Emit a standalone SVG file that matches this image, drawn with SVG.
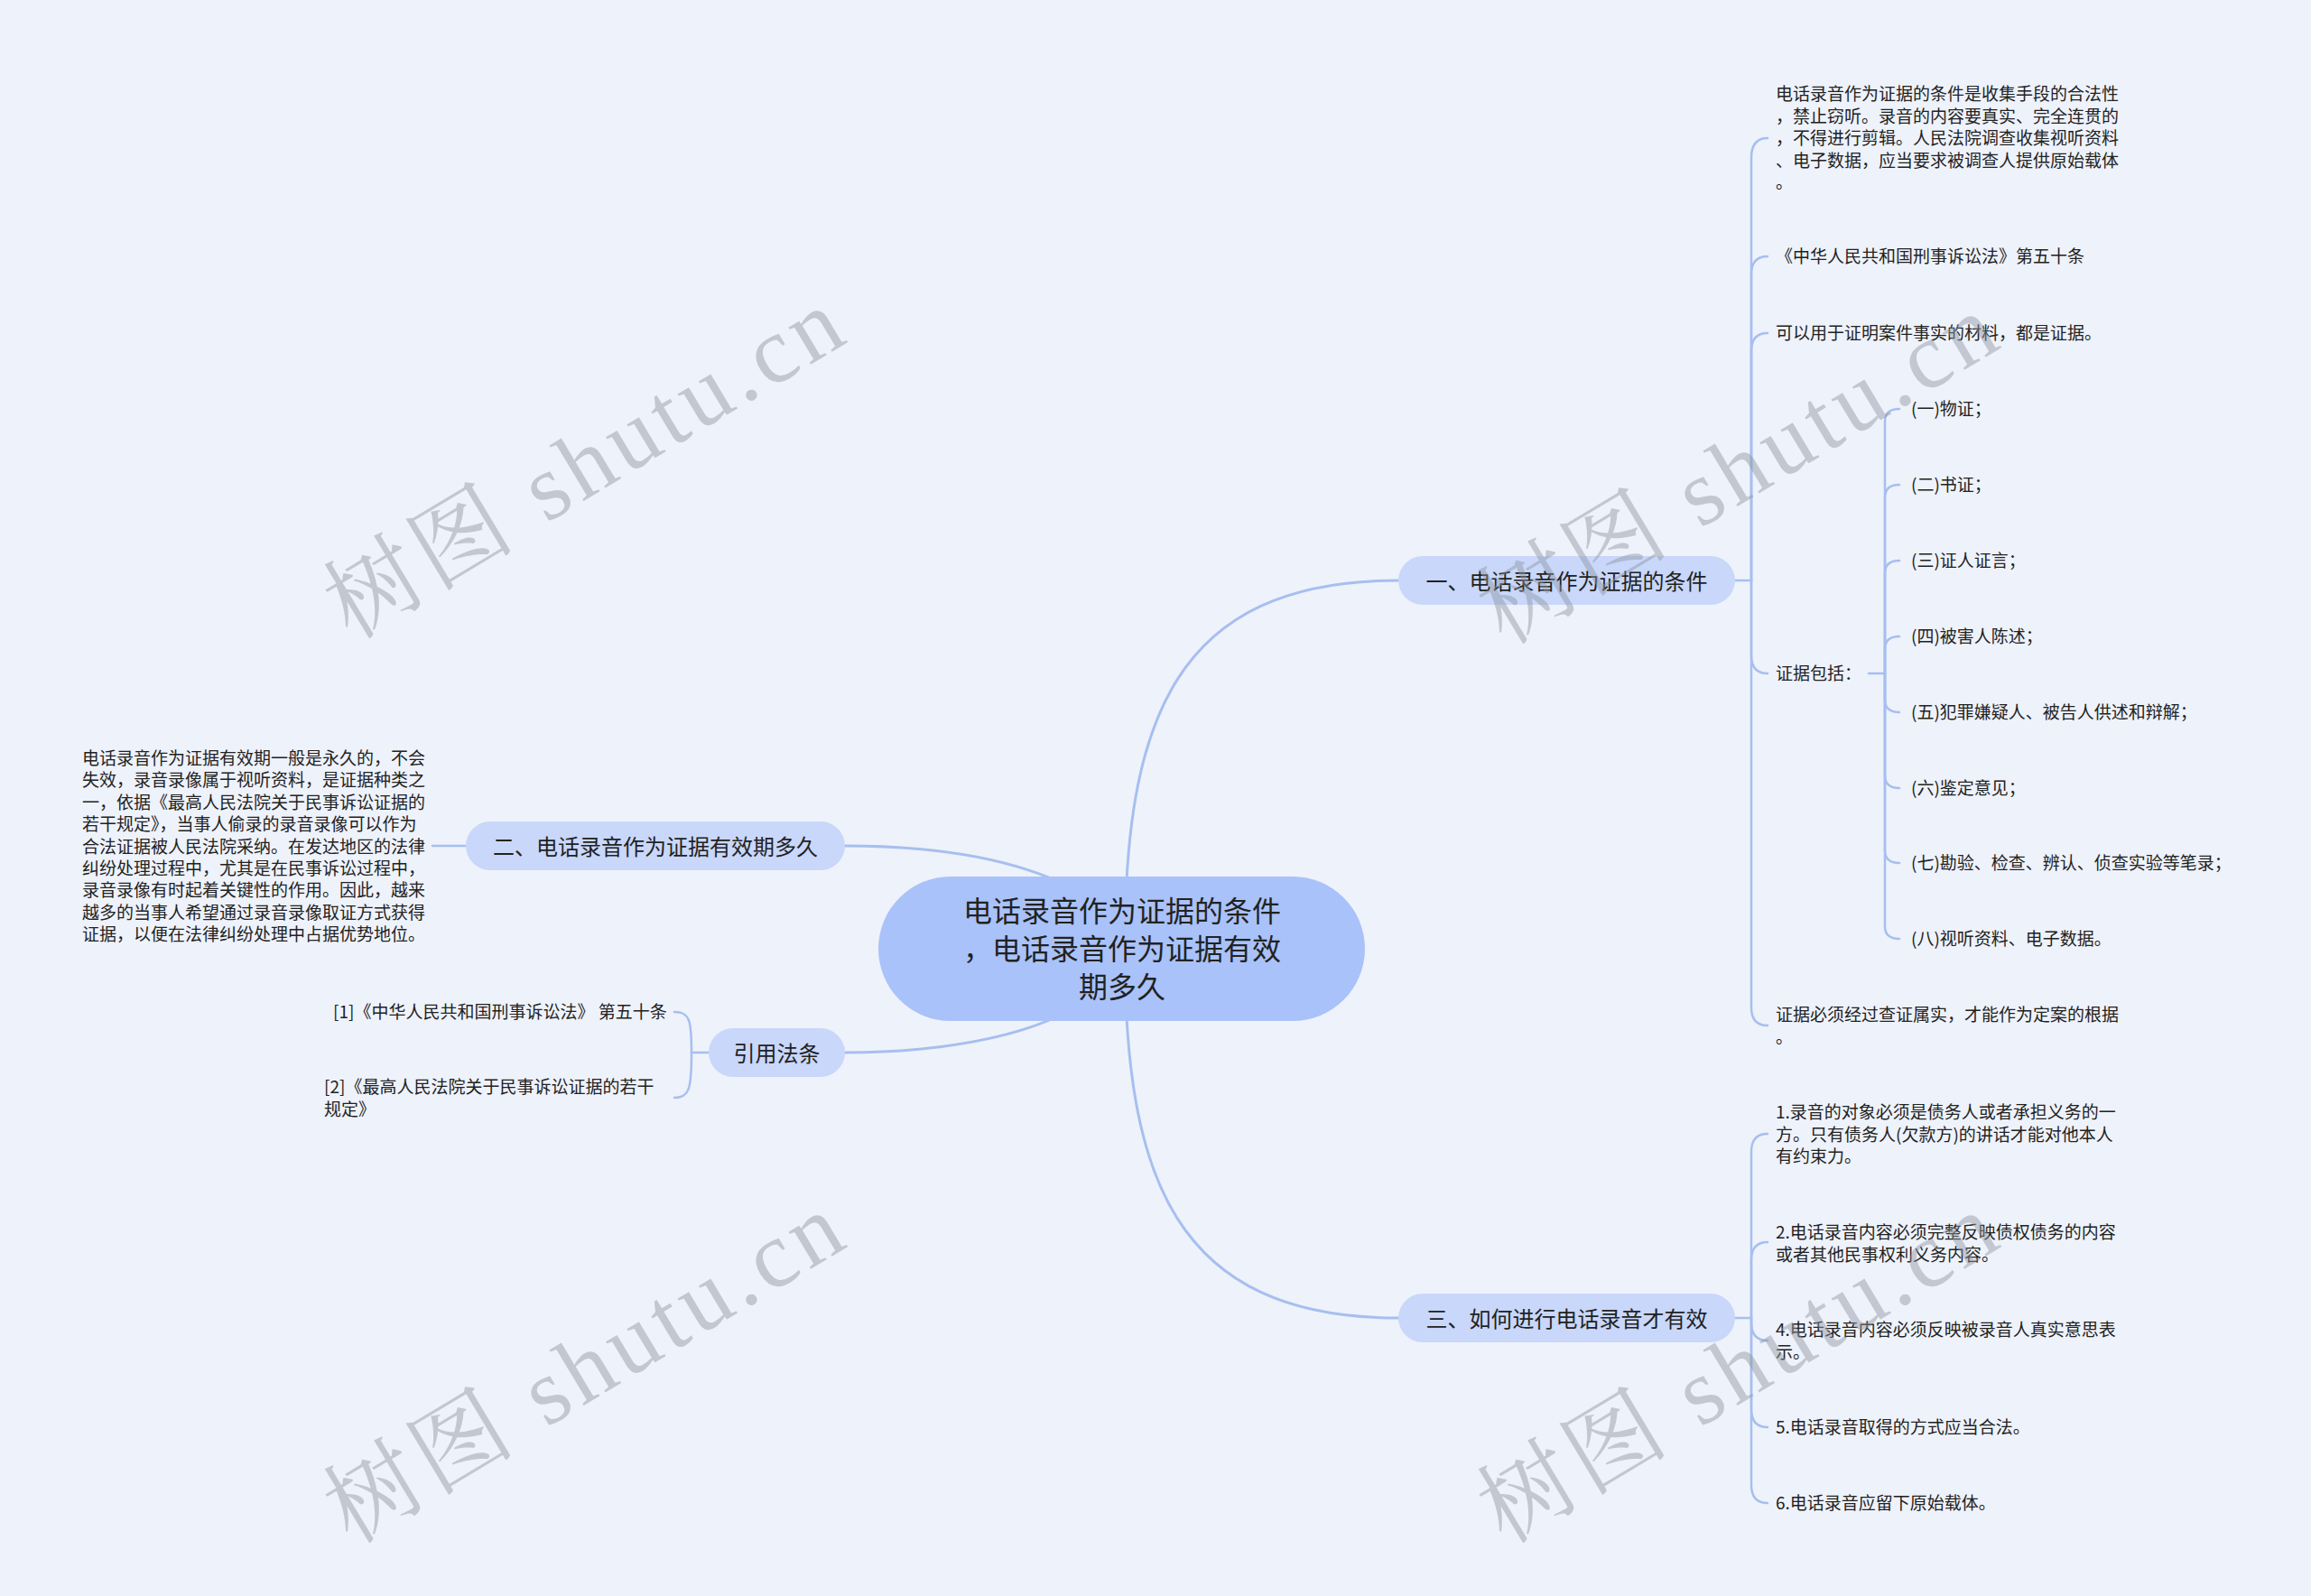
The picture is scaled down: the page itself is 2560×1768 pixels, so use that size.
<svg xmlns="http://www.w3.org/2000/svg" width="2560" height="1768" viewBox="0 0 2560 1768">
<style>
.bg{fill:#eef2fb}
.ln{fill:none;stroke:#a7bfef;stroke-width:2.5;stroke-linecap:round}
.lm{fill:none;stroke:#a7bfef;stroke-width:3;stroke-linecap:round}
.t{font-family:"Noto Sans CJK SC","Noto Sans",sans-serif;fill:#222;dominant-baseline:central}
.c{font-size:19px}
.b{font-size:24px;text-anchor:middle}
.r{font-size:32px;text-anchor:middle}
.rootbox{fill:#a9c2fa}
.brbox{fill:#c8d7fa}
.wm{font-family:"Liberation Serif","Noto Serif CJK SC","Noto Sans CJK SC",serif;font-size:104px;letter-spacing:6px;fill:#8e959f;opacity:0.45;text-anchor:middle;dominant-baseline:central}
</style>
<rect class="bg" x="0" y="0" width="2560" height="1768"/>

<g id="connectors">
  <path class="lm" d="M1246,1051 C1246,800 1300,643 1549,643"/>
  <path class="lm" d="M1246,1051 C1246,1302 1300,1460 1549,1460"/>
  <path class="lm" d="M1242,1051 C1230,970 1080,937 936,937"/>
  <path class="lm" d="M1242,1051 C1230,1132 1080,1166 936,1166"/>
  <path class="ln" d="M1922,643 H1940"/>
  <path class="ln" d="M1940,643 V175 Q1940,153 1958,153"/>
  <path class="ln" d="M1940,643 V304 Q1940,284 1958,284"/>
  <path class="ln" d="M1940,643 V389 Q1940,369 1958,369"/>
  <path class="ln" d="M1940,643 V726 Q1940,746 1958,746"/>
  <path class="ln" d="M1940,643 V1116 Q1940,1136 1958,1136"/>
  <path class="ln" d="M2070,746 H2088"/>
  <path class="ln" d="M2088,746 V467 Q2088,453 2104,453"/>
  <path class="ln" d="M2088,746 V551 Q2088,537 2104,537"/>
  <path class="ln" d="M2088,746 V635 Q2088,621 2104,621"/>
  <path class="ln" d="M2088,746 V719 Q2088,705 2104,705"/>
  <path class="ln" d="M2088,746 V775 Q2088,789 2104,789"/>
  <path class="ln" d="M2088,746 V859 Q2088,873 2104,873"/>
  <path class="ln" d="M2088,746 V942 Q2088,956 2104,956"/>
  <path class="ln" d="M2088,746 V1026 Q2088,1040 2104,1040"/>
  <path class="ln" d="M1922,1460 H1940"/>
  <path class="ln" d="M1940,1460 V1276 Q1940,1256 1958,1256"/>
  <path class="ln" d="M1940,1460 V1396 Q1940,1376 1958,1376"/>
  <path class="ln" d="M1940,1460 V1465 Q1940,1485 1958,1485"/>
  <path class="ln" d="M1940,1460 V1561 Q1940,1581 1958,1581"/>
  <path class="ln" d="M1940,1460 V1645 Q1940,1665 1958,1665"/>
  <path class="ln" d="M516,937 H479"/>
  <path class="ln" d="M785,1166 H766"/>
  <path class="ln" d="M766,1166 C766,1130 764,1121 747,1121"/>
  <path class="ln" d="M766,1166 C766,1205 764,1216 747,1216"/>
</g>

<g id="root">
  <rect class="rootbox" x="973" y="971" width="539" height="160" rx="80"/>
  <text class="t r" x="1243" y="1007">电话录音作为证据的条件</text>
  <text class="t r" x="1243" y="1049">，电话录音作为证据有效</text>
  <text class="t r" x="1243" y="1091">期多久</text>
</g>

<g id="branch1">
  <rect class="brbox" x="1549" y="616" width="373" height="54" rx="27"/>
  <text class="t b" x="1735.5" y="642">一、电话录音作为证据的条件</text>
</g>
<g id="b1c1">
  <text class="t c" x="1967" y="102.5">电话录音作为证据的条件是收集手段的合法性</text>
  <text class="t c" x="1967" y="127">，禁止窃听。录音的内容要真实、完全连贯的</text>
  <text class="t c" x="1967" y="151.5">，不得进行剪辑。人民法院调查收集视听资料</text>
  <text class="t c" x="1967" y="176">、电子数据，应当要求被调查人提供原始载体</text>
  <text class="t c" x="1967" y="200.5">。</text>
</g>
<g id="b1c2"><text class="t c" x="1967" y="282.5">《中华人民共和国刑事诉讼法》第五十条</text></g>
<g id="b1c3"><text class="t c" x="1967" y="367.5">可以用于证明案件事实的材料，都是证据。</text></g>
<g id="b1c4"><text class="t c" x="1967" y="744.5">证据包括：</text></g>
<g id="e1"><text class="t c" x="2117" y="451.5">(一)物证；</text></g>
<g id="e2"><text class="t c" x="2117" y="535.5">(二)书证；</text></g>
<g id="e3"><text class="t c" x="2117" y="619.5">(三)证人证言；</text></g>
<g id="e4"><text class="t c" x="2117" y="703.5">(四)被害人陈述；</text></g>
<g id="e5"><text class="t c" x="2117" y="787.5">(五)犯罪嫌疑人、被告人供述和辩解；</text></g>
<g id="e6"><text class="t c" x="2117" y="871.5">(六)鉴定意见；</text></g>
<g id="e7"><text class="t c" x="2117" y="954.5">(七)勘验、检查、辨认、侦查实验等笔录；</text></g>
<g id="e8"><text class="t c" x="2117" y="1038.5">(八)视听资料、电子数据。</text></g>
<g id="b1c5">
  <text class="t c" x="1967" y="1122.5">证据必须经过查证属实，才能作为定案的根据</text>
  <text class="t c" x="1967" y="1147">。</text>
</g>

<g id="branch3">
  <rect class="brbox" x="1549" y="1433" width="373" height="54" rx="27"/>
  <text class="t b" x="1735.5" y="1459">三、如何进行电话录音才有效</text>
</g>
<g id="b3c1">
  <text class="t c" x="1967" y="1230.5">1.录音的对象必须是债务人或者承担义务的一</text>
  <text class="t c" x="1967" y="1255">方。只有债务人(欠款方)的讲话才能对他本人</text>
  <text class="t c" x="1967" y="1279.5">有约束力。</text>
</g>
<g id="b3c2">
  <text class="t c" x="1967" y="1363.5">2.电话录音内容必须完整反映债权债务的内容</text>
  <text class="t c" x="1967" y="1388">或者其他民事权利义务内容。</text>
</g>
<g id="b3c3">
  <text class="t c" x="1967" y="1471.5">4.电话录音内容必须反映被录音人真实意思表</text>
  <text class="t c" x="1967" y="1496">示。</text>
</g>
<g id="b3c4"><text class="t c" x="1967" y="1579.5">5.电话录音取得的方式应当合法。</text></g>
<g id="b3c5"><text class="t c" x="1967" y="1663.5">6.电话录音应留下原始载体。</text></g>

<g id="branch2">
  <rect class="brbox" x="516" y="910" width="420" height="54" rx="27"/>
  <text class="t b" x="726" y="936">二、电话录音作为证据有效期多久</text>
</g>
<g id="b2c1">
  <text class="t c" x="91" y="838.5">电话录音作为证据有效期一般是永久的，不会</text>
  <text class="t c" x="91" y="862.9">失效，录音录像属于视听资料，是证据种类之</text>
  <text class="t c" x="91" y="887.3">一，依据《最高人民法院关于民事诉讼证据的</text>
  <text class="t c" x="91" y="911.7">若干规定》，当事人偷录的录音录像可以作为</text>
  <text class="t c" x="91" y="936.1">合法证据被人民法院采纳。在发达地区的法律</text>
  <text class="t c" x="91" y="960.5">纠纷处理过程中，尤其是在民事诉讼过程中，</text>
  <text class="t c" x="91" y="984.9">录音录像有时起着关键性的作用。因此，越来</text>
  <text class="t c" x="91" y="1009.3">越多的当事人希望通过录音录像取证方式获得</text>
  <text class="t c" x="91" y="1033.7">证据，以便在法律纠纷处理中占据优势地位。</text>
</g>

<g id="branch4">
  <rect class="brbox" x="785" y="1139" width="151" height="54" rx="27"/>
  <text class="t b" x="860.5" y="1165">引用法条</text>
</g>
<g id="ref1"><text class="t c" x="369" y="1119.5">[1]《中华人民共和国刑事诉讼法》 第五十条</text></g>
<g id="ref2">
  <text class="t c" x="359" y="1202.5">[2]《最高人民法院关于民事诉讼证据的若干</text>
  <text class="t c" x="359" y="1227">规定》</text>
</g>

<g id="watermarks">
  <text class="wm" transform="translate(649,512) rotate(-31)">树图 shutu.cn</text>
  <text class="wm" transform="translate(1927,518) rotate(-31)">树图 shutu.cn</text>
  <text class="wm" transform="translate(649,1514) rotate(-31)">树图 shutu.cn</text>
  <text class="wm" transform="translate(1927,1514) rotate(-31)">树图 shutu.cn</text>
</g>
</svg>
